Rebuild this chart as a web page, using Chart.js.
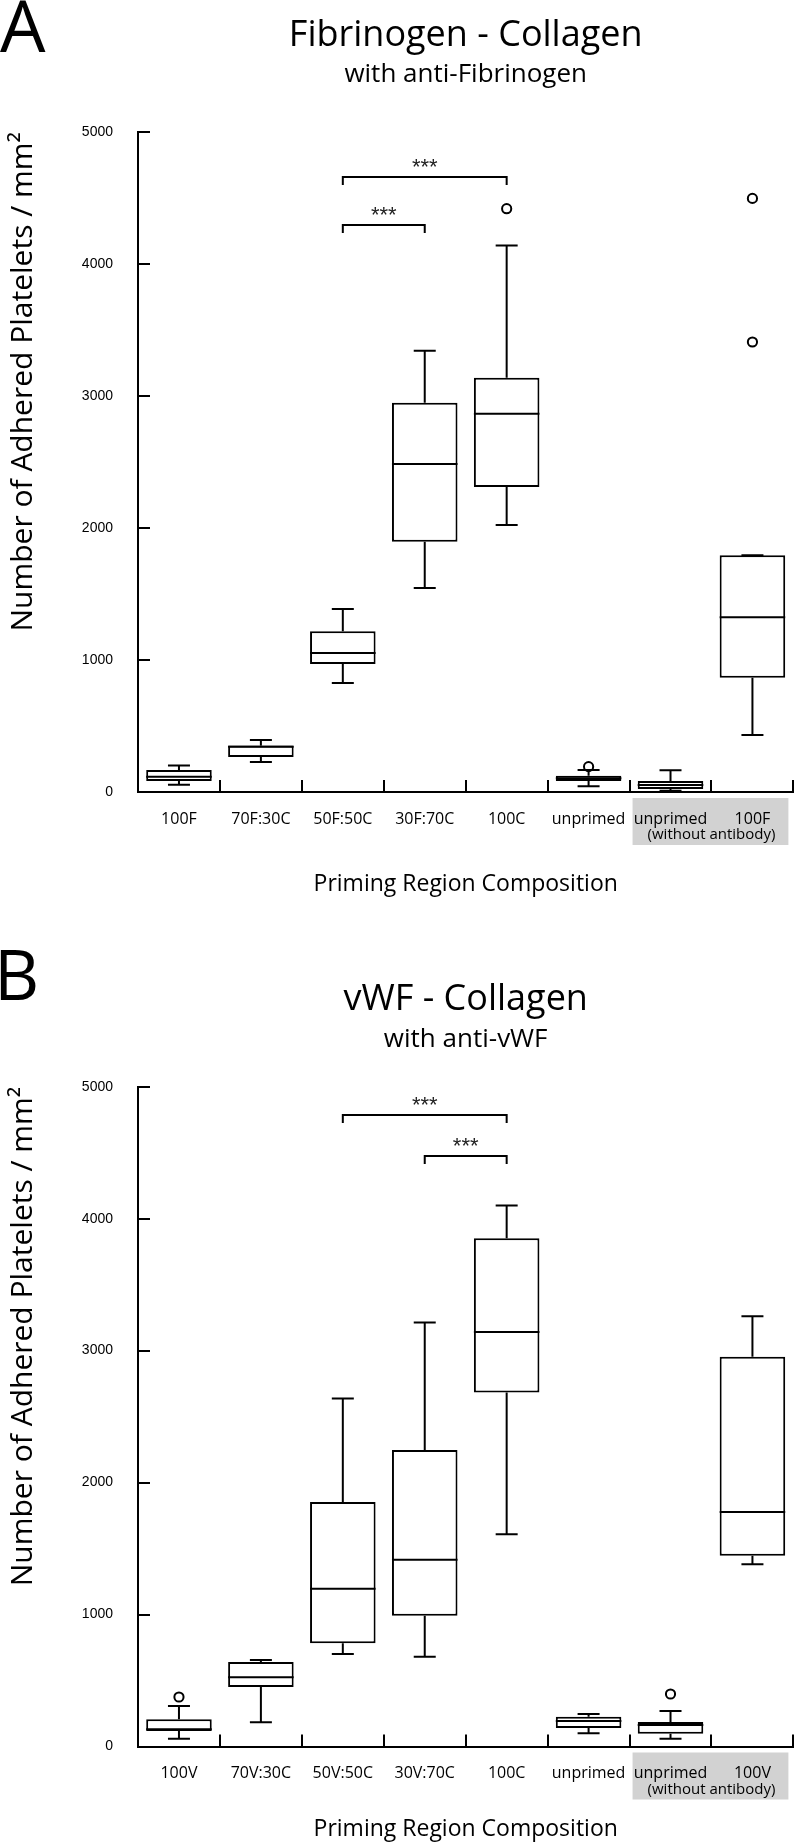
<!DOCTYPE html>
<html>
<head>
<meta charset="utf-8">
<script src="https://cdn.jsdelivr.net/npm/chart.js@4.4.0/dist/chart.umd.min.js"></script>
<style>
  html, body { margin: 0; padding: 0; background: #ffffff; }
  canvas { display: block; }
</style>
</head>
<body>
<canvas id="chartA" width="800" height="922"></canvas>
<canvas id="chartB" width="800" height="922"></canvas>
<script>
// ---------------- Data ----------------
const yTicks = [0, 1000, 2000, 3000, 4000, 5000];

// Panel A: Fibrinogen - Collagen, with anti-Fibrinogen
const categoriesA   = ['100F', '70F:30C', '50F:50C', '30F:70C', '100C', 'unprimed', 'unprimed', '100F'];
const whiskerLowA   = [55, 227, 826, 1545, 2023, 43, 10, 432];
const q1A           = [83, 265, 970, 1896, 2311, 83, 23, 866];
const medianA       = [116, 343, 1053, 2485, 2865, 104, 53, 1323];
const q3A           = [167, 353, 1217, 2949, 3139, 124, 83, 1793];
const whiskerHighA  = [200, 394, 1386, 3343, 4141, 167, 164, 1793];
const outliersA     = [[], [], [], [], [4419], [192], [], [4497, 3409]];
const sigFromA      = [2, 2];
const sigToA        = [4, 3];
const sigLevelA     = [4660, 4295];
const sigTextA      = ['***', '***'];

// Panel B: vWF - Collagen, with anti-vWF
const categoriesB   = ['100V', '70V:30C', '50V:50C', '30V:70C', '100C', 'unprimed', 'unprimed', '100V'];
const whiskerLowB   = [59, 184, 701, 680, 1608, 100, 59, 1382];
const q1B           = [118, 451, 782, 991, 2683, 140, 97, 1445];
const medianB       = [130, 525, 1196, 1415, 3142, 193, 163, 1777];
const q3B           = [206, 641, 1852, 2246, 3852, 226, 186, 2953];
const whiskerHighB  = [307, 656, 2638, 3214, 4100, 246, 269, 3261];
const outliersB     = [[375], [], [], [], [], [], [398], []];
const sigFromB      = [2, 3];
const sigToB        = [4, 4];
const sigLevelB     = [4789, 4473];
const sigTextB      = ['***', '***'];

const noteText = '(without antibody)';
const noteFrom = 6, noteTo = 7;   // category indices grouped under the note

// ---------------- Rendering ----------------
Chart.defaults.font.family = "'Open Sans', 'Noto Sans', sans-serif";
Chart.defaults.color = '#000';

function makeBoxPlugin(p) {
  return {
    id: 'boxParts' + p.letter,
    beforeDraw(chart) {
      const ctx = chart.ctx, x = chart.scales.x, area = chart.chartArea;
      const xa = x.getPixelForValue(noteFrom - 0.5) + 3;
      const xb = x.getPixelForValue(noteTo + 0.5) - 5;
      ctx.save();
      ctx.fillStyle = '#d2d2d2';
      ctx.fillRect(xa, area.bottom + 6, xb - xa, 47);
      ctx.restore();
    },
    afterDatasetsDraw(chart) {
      const ctx = chart.ctx, x = chart.scales.x, y = chart.scales.y, area = chart.chartArea;
      const bars = chart.getDatasetMeta(0).data;
      ctx.save();
      ctx.strokeStyle = '#000';
      ctx.lineWidth = 2;
      ctx.lineCap = 'butt';
      bars.forEach((bar, i) => {
        const cx = bar.x, hw = bar.width / 2, cap = 11;
        const yLo = y.getPixelForValue(p.low[i]), yQ1 = y.getPixelForValue(p.q1[i]);
        const yQ3 = y.getPixelForValue(p.q3[i]), yHi = y.getPixelForValue(p.high[i]);
        const yMed = y.getPixelForValue(p.med[i]);
        ctx.beginPath();
        ctx.moveTo(cx, yQ1); ctx.lineTo(cx, yLo);
        ctx.moveTo(cx - cap, yLo); ctx.lineTo(cx + cap, yLo);
        ctx.moveTo(cx, yQ3); ctx.lineTo(cx, yHi);
        ctx.moveTo(cx - cap, yHi); ctx.lineTo(cx + cap, yHi);
        ctx.moveTo(cx - hw, yMed); ctx.lineTo(cx + hw, yMed);
        ctx.stroke();
      });
      ctx.beginPath();
      yTicks.forEach(v => {
        const py = Math.round(y.getPixelForValue(v));
        ctx.moveTo(area.left, py); ctx.lineTo(area.left + 12, py);
      });
      for (let i = 0; i < p.categories.length; i++) {
        const px = Math.round(x.getPixelForValue(i + 0.5));
        ctx.moveTo(px, area.bottom); ctx.lineTo(px, area.bottom - 12);
      }
      ctx.stroke();
      ctx.font = "22px 'Liberation Sans', Arial, sans-serif";
      ctx.fillStyle = '#222';
      ctx.textAlign = 'center';
      ctx.textBaseline = 'alphabetic';
      p.sigFrom.forEach((f, k) => {
        const x1 = x.getPixelForValue(f), x2 = x.getPixelForValue(p.sigTo[k]);
        const py = Math.round(y.getPixelForValue(p.sigLevel[k]));
        ctx.beginPath();
        ctx.moveTo(x1, py + 8); ctx.lineTo(x1, py); ctx.lineTo(x2, py); ctx.lineTo(x2, py + 8);
        ctx.stroke();
        ctx.fillText(p.sigText[k], (x1 + x2) / 2, py - 3);
      });
      ctx.restore();
    },
    afterDraw(chart) {
      const ctx = chart.ctx, x = chart.scales.x, area = chart.chartArea;
      ctx.save();
      ctx.fillStyle = '#000';
      ctx.textAlign = 'center';
      ctx.textBaseline = 'alphabetic';
      ctx.font = "15px 'Open Sans', sans-serif";
      const nx = (x.getPixelForValue(noteFrom) + x.getPixelForValue(noteTo)) / 2;
      ctx.fillText(noteText, nx, area.bottom + 47);
      ctx.textAlign = 'left';
      ctx.font = p.letterFont;
      ctx.fillText(p.letter, p.letterX, p.letterY);
      ctx.restore();
    }
  };
}

function buildChart(id, p) {
  const outlierSets = [];
  const maxOut = Math.max(...p.outliers.map(o => o.length));
  for (let k = 0; k < maxOut; k++) {
    outlierSets.push({
      type: 'line',
      data: p.outliers.map(o => (o.length > k ? o[k] : null)),
      showLine: false,
      pointStyle: 'circle',
      pointRadius: 4.6,
      pointBorderWidth: 2,
      pointBorderColor: '#000',
      pointBackgroundColor: '#fff',
      borderColor: '#000',
      backgroundColor: '#fff',
      order: 0
    });
  }
  return new Chart(document.getElementById(id), {
    type: 'bar',
    data: {
      labels: p.categories,
      datasets: [{
        type: 'bar',
        data: p.q1.map((v, i) => [v, p.q3[i]]),
        backgroundColor: '#fff',
        borderColor: '#000',
        borderWidth: 2,
        borderSkipped: false,
        barPercentage: 0.8,
        categoryPercentage: 1,
        order: 1
      }, ...outlierSets]
    },
    options: {
      responsive: false,
      devicePixelRatio: 1,
      animation: false,
      layout: { padding: { top: 0, left: 0, right: 1, bottom: 0 } },
      plugins: {
        legend: { display: false },
        tooltip: { enabled: false },
        title: {
          display: true, text: p.title, fullSize: false, color: '#000',
          font: { size: 36, weight: 'normal', family: "'Open Sans', sans-serif", lineHeight: 1.2 },
          padding: { top: p.titlePadTop, bottom: 0 }
        },
        subtitle: {
          display: true, text: p.subtitle, fullSize: false, color: '#000',
          font: { size: 26, weight: 'normal', family: "'Open Sans', sans-serif", lineHeight: 1.2 },
          padding: { top: p.subPadTop, bottom: p.subPadBottom }
        }
      },
      scales: {
        x: {
          type: 'category',
          offset: true,
          grid: { display: false },
          border: { display: true, color: '#000', width: 2 },
          ticks: {
            autoSkip: false, maxRotation: 0, minRotation: 0, padding: 9.5, color: '#000',
            font: { size: 16, family: "'Open Sans', sans-serif", lineHeight: 1.2 }
          },
          title: {
            display: true, text: 'Priming Region Composition', color: '#000',
            font: { size: 23, family: "'Open Sans', sans-serif", lineHeight: 1.2 },
            padding: { top: 0, bottom: p.xTitlePadBottom }
          },
          afterFit: s => { s.height = p.xAxisHeight; }
        },
        y: {
          min: 0, max: 5000,
          grid: { display: false },
          border: { display: true, color: '#000', width: 2 },
          ticks: {
            stepSize: 1000, padding: 17, color: '#000',
            font: { size: 14, family: "'Liberation Sans', Arial, sans-serif" },
            callback: v => String(v)
          },
          title: {
            display: true, text: 'Number of Adhered Platelets / mm²', color: '#000',
            align: 'end',
            font: { size: 30, family: "'Open Sans', sans-serif", lineHeight: 1.2 },
            padding: { top: 5, bottom: 0 }
          },
          afterFit: s => { s.width = 138; }
        }
      }
    },
    plugins: [makeBoxPlugin(p)]
  });
}

buildChart('chartA', {
  categories: categoriesA, low: whiskerLowA, q1: q1A, med: medianA, q3: q3A, high: whiskerHighA,
  outliers: outliersA, sigFrom: sigFromA, sigTo: sigToA, sigLevel: sigLevelA, sigText: sigTextA,
  title: 'Fibrinogen - Collagen', subtitle: 'with anti-Fibrinogen',
  titlePadTop: 14.4, subPadTop: 1.7, subPadBottom: 41.5,
  xAxisHeight: 130, xTitlePadBottom: 24.2,
  letter: 'A', letterFont: "72px 'Open Sans', sans-serif", letterX: 0, letterY: 52
});

buildChart('chartB', {
  categories: categoriesB, low: whiskerLowB, q1: q1B, med: medianB, q3: q3B, high: whiskerHighB,
  outliers: outliersB, sigFrom: sigFromB, sigTo: sigToB, sigLevel: sigLevelB, sigText: sigTextB,
  title: 'vWF - Collagen', subtitle: 'with anti-vWF',
  titlePadTop: 56.4, subPadTop: 2.7, subPadBottom: 31.2,
  xAxisHeight: 97.5, xTitlePadBottom: 0.8,
  letter: 'B', letterFont: "70px 'Open Sans', sans-serif", letterX: -6, letterY: 78
});
</script>
</body>
</html>
